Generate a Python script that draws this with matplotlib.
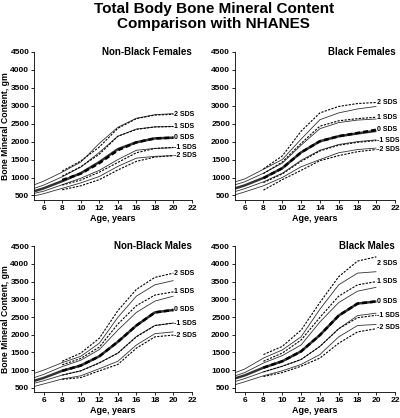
import matplotlib
matplotlib.use("Agg")
import matplotlib.pyplot as plt
from matplotlib import rcParams

rcParams["font.family"] = ["Liberation Sans", "DejaVu Sans"]
rcParams["font.weight"] = "bold"

# ages for the NHANES reference (solid) and study (dashed) curves
ages_ref = [5, 6, 8, 10, 12, 14, 16, 18, 20]
ages_study = [8, 10, 12, 14, 16, 18, 20]
sds_labels = ["2 SDS", "1 SDS", "0 SDS", "-1 SDS", "-2 SDS"]

# Non-Black Females
nbf_ref_p2 = [800, 900, 1150, 1430, 1950, 2400, 2650, 2750, 2780]
nbf_ref_p1 = [700, 790, 1020, 1290, 1700, 2150, 2350, 2410, 2420]
nbf_ref_0 = [620, 700, 900, 1120, 1430, 1790, 1980, 2090, 2110]
nbf_ref_m1 = [560, 620, 800, 980, 1200, 1500, 1760, 1810, 1830]
nbf_ref_m2 = [490, 550, 700, 850, 1030, 1310, 1540, 1590, 1610]
nbf_st_p2 = [1180, 1460, 1850, 2370, 2640, 2740, 2760]
nbf_st_p1 = [1040, 1300, 1650, 2150, 2340, 2410, 2420]
nbf_st_0 = [930, 1110, 1400, 1760, 1980, 2090, 2110]
nbf_st_m1 = [790, 930, 1150, 1420, 1690, 1810, 1840]
nbf_st_m2 = [660, 770, 940, 1210, 1450, 1570, 1610]

# Black Females
bf_ref_p2 = [880, 960, 1230, 1500, 2070, 2610, 2800, 2910, 2980]
bf_ref_p1 = [800, 880, 1120, 1400, 1900, 2360, 2530, 2600, 2630]
bf_ref_0 = [700, 780, 990, 1260, 1700, 2010, 2150, 2230, 2300]
bf_ref_m1 = [610, 690, 880, 1120, 1480, 1760, 1920, 2000, 2050]
bf_ref_m2 = [520, 600, 770, 1000, 1300, 1500, 1690, 1780, 1820]
bf_st_p2 = [1240, 1600, 2290, 2800, 2980, 3060, 3090]
bf_st_p1 = [1110, 1430, 1950, 2430, 2580, 2640, 2680]
bf_st_0 = [980, 1260, 1700, 2010, 2150, 2240, 2330]
bf_st_m1 = [860, 1100, 1450, 1740, 1900, 1980, 2030]
bf_st_m2 = [650, 940, 1200, 1470, 1610, 1720, 1780]

# Non-Black Males
nbm_ref_p2 = [910, 1000, 1210, 1390, 1760, 2490, 3090, 3410, 3530]
nbm_ref_p1 = [790, 880, 1100, 1280, 1580, 2130, 2630, 2950, 3090]
nbm_ref_0 = [700, 780, 980, 1130, 1390, 1800, 2260, 2630, 2700]
nbm_ref_m1 = [630, 700, 860, 980, 1210, 1480, 1950, 2260, 2330]
nbm_ref_m2 = [540, 610, 750, 840, 1040, 1250, 1710, 2030, 2080]
nbm_st_p2 = [1250, 1480, 1900, 2680, 3280, 3620, 3740]
nbm_st_p1 = [1150, 1330, 1650, 2300, 2820, 3120, 3210]
nbm_st_0 = [980, 1130, 1390, 1800, 2260, 2630, 2700]
nbm_st_m1 = [860, 980, 1200, 1480, 1940, 2260, 2330]
nbm_st_m2 = [740, 790, 980, 1160, 1620, 1940, 1990]

# Black Males
bm_ref_p2 = [930, 1030, 1340, 1570, 1940, 2720, 3410, 3740, 3780]
bm_ref_p1 = [840, 930, 1200, 1410, 1710, 2360, 2910, 3230, 3340]
bm_ref_0 = [770, 850, 1070, 1250, 1530, 1990, 2540, 2880, 2940]
bm_ref_m1 = [680, 760, 950, 1110, 1300, 1670, 2170, 2540, 2610]
bm_ref_m2 = [590, 670, 840, 980, 1160, 1440, 1940, 2260, 2290]
bm_st_p2 = [1440, 1670, 2130, 2910, 3640, 4080, 4200]
bm_st_p1 = [1250, 1480, 1850, 2490, 3090, 3410, 3500]
bm_st_0 = [1070, 1250, 1530, 1990, 2540, 2880, 2940]
bm_st_m1 = [950, 1110, 1300, 1670, 2170, 2480, 2550]
bm_st_m2 = [820, 930, 1110, 1340, 1760, 2080, 2170]

panels = [
    ("Non-Black Females", [nbf_ref_p2, nbf_ref_p1, nbf_ref_0, nbf_ref_m1, nbf_ref_m2],
     [nbf_st_p2, nbf_st_p1, nbf_st_0, nbf_st_m1, nbf_st_m2]),
    ("Black Females", [bf_ref_p2, bf_ref_p1, bf_ref_0, bf_ref_m1, bf_ref_m2],
     [bf_st_p2, bf_st_p1, bf_st_0, bf_st_m1, bf_st_m2]),
    ("Non-Black Males", [nbm_ref_p2, nbm_ref_p1, nbm_ref_0, nbm_ref_m1, nbm_ref_m2],
     [nbm_st_p2, nbm_st_p1, nbm_st_0, nbm_st_m1, nbm_st_m2]),
    ("Black Males", [bm_ref_p2, bm_ref_p1, bm_ref_0, bm_ref_m1, bm_ref_m2],
     [bm_st_p2, bm_st_p1, bm_st_0, bm_st_m1, bm_st_m2]),
]

# axes rectangles in figure fractions
rects = [
    [0.086, 0.522, 0.394, 0.354],
    [0.588, 0.522, 0.400, 0.354],
    [0.086, 0.062, 0.394, 0.349],
    [0.588, 0.062, 0.400, 0.349],
]
# small vertical nudges (data units) for crowded SDS labels
label_nudge = {3: {0: -180, 4: 20}}

fig = plt.figure(figsize=(4, 4.18), dpi=100)
fig.text(0.534, 0.995, "Total Body Bone Mineral Content\nComparison with NHANES",
         ha="center", va="top", fontsize=11, fontweight="bold", linespacing=1.05)

for i, (title, ref, study) in enumerate(panels):
    ax = fig.add_axes(rects[i])
    for k in range(5):
        lw = 1.8 if k == 2 else 0.6
        ax.plot(ages_ref, ref[k], color="#333333", lw=lw, solid_capstyle="butt")
        ax.plot(ages_study, study[k], color="black", lw=1.8 if k == 2 else 0.8,
                linestyle=(0, (2.0, 1.2)))
        y_lab = study[k][-1] + label_nudge.get(i, {}).get(k, 0)
        ax.text(20.05, y_lab, sds_labels[k], fontsize=5, fontweight="bold",
                ha="left", va="center")
    ax.set_xlim(5, 22)
    ax.set_ylim(380, 4500)
    ax.set_xticks(range(6, 23, 2))
    ax.set_yticks(range(500, 4501, 500))
    ax.tick_params(labelsize=6, length=2.5, width=0.6, pad=1.2)
    for lab in ax.get_xticklabels() + ax.get_yticklabels():
        lab.set_fontweight("bold")
    ax.spines["top"].set_visible(False)
    ax.spines["right"].set_visible(False)
    ax.spines["left"].set_linewidth(0.6)
    ax.spines["bottom"].set_linewidth(0.6)
    ax.set_xlabel("Age, years", fontsize=6.5, fontweight="bold", labelpad=1.5)
    if i % 2 == 0:
        ax.set_ylabel("Bone Mineral Content, gm", fontsize=6.2, fontweight="bold", labelpad=0.5)
    ax.text(1.0, 1.0, title, transform=ax.transAxes, ha="right", va="center",
            fontsize=7, fontweight="bold")

plt.savefig("out.png", dpi=100)
plt.close()
